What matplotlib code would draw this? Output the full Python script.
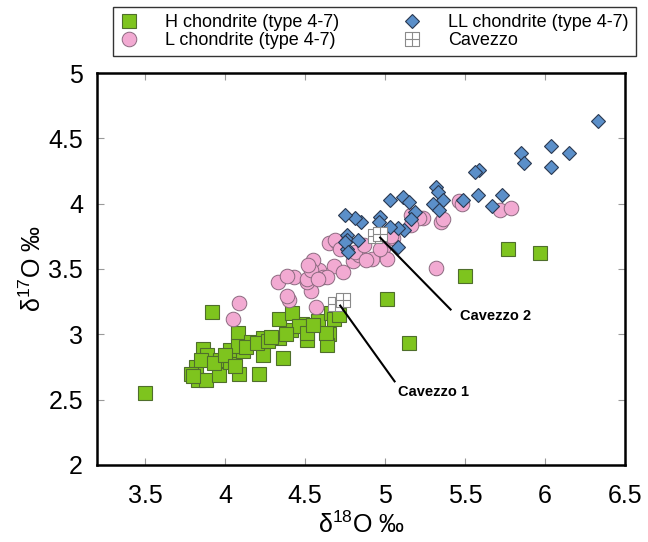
import numpy as np
import matplotlib
matplotlib.use("Agg")
import matplotlib.pyplot as plt
from matplotlib.path import Path

plt.rcParams['font.family'] = ['Liberation Sans', 'DejaVu Sans']

# H chondrite (type 4-7)
h_x = [3.50, 3.92, 4.08, 3.86, 3.89, 3.82, 3.79, 3.83, 3.88, 3.96, 3.97, 4.03,
       4.03, 4.09, 4.11, 4.08, 4.16, 4.24, 4.34, 4.36, 4.21, 4.24, 4.48, 4.51,
       4.41, 4.34, 4.42, 4.58, 4.65, 4.64, 4.66, 4.46, 4.63, 4.51, 3.85, 3.93,
       4.00, 4.13, 4.20, 4.27, 4.55, 4.29, 4.38, 4.68, 4.71, 4.06, 3.80,
       5.77, 5.97, 5.50, 5.01, 5.15]
h_y = [2.55, 3.17, 3.01, 2.89, 2.84, 2.75, 2.70, 2.65, 2.65, 2.69, 2.80, 2.79,
       2.88, 2.70, 2.87, 2.91, 2.94, 2.97, 2.97, 2.82, 2.70, 2.84, 3.08, 2.96,
       3.03, 3.12, 3.16, 3.10, 3.00, 2.92, 3.16, 3.06, 3.01, 3.01, 2.80, 2.78,
       2.84, 2.90, 2.93, 2.95, 3.07, 2.98, 3.00, 3.12, 3.15, 2.76, 2.68,
       3.65, 3.62, 3.45, 3.27, 2.93]

# L chondrite (type 4-7)
l_x = [4.09, 4.05, 4.40, 4.57, 4.54, 4.33, 4.43, 4.39, 4.51, 4.57, 4.59, 4.68,
       4.74, 4.55, 4.80, 4.84, 4.92, 4.51, 4.54, 4.61, 4.65, 4.70, 4.81, 4.87,
       4.88, 4.39, 4.52, 5.46, 5.35, 5.24, 5.16, 5.05, 4.99, 5.01, 5.32, 5.21,
       5.16, 5.36, 5.48, 5.72, 5.79, 5.04, 4.97, 4.64, 4.69, 4.72, 4.58]
l_y = [3.24, 3.12, 3.26, 3.21, 3.33, 3.40, 3.44, 3.45, 3.40, 3.47, 3.49, 3.52,
       3.48, 3.57, 3.56, 3.61, 3.58, 3.42, 3.49, 3.44, 3.70, 3.71, 3.63, 3.68,
       3.57, 3.29, 3.53, 4.02, 3.86, 3.89, 3.91, 3.74, 3.66, 3.58, 3.51, 3.89,
       3.84, 3.88, 4.00, 3.95, 3.97, 3.75, 3.65, 3.44, 3.72, 3.65, 3.42]

# LL chondrite (type 4-7)
ll_x = [6.33, 6.04, 6.15, 5.85, 5.87, 6.04, 5.59, 5.56, 5.58, 5.73, 5.67, 5.49,
        5.32, 5.33, 5.36, 5.30, 5.34, 5.11, 5.03, 5.15, 5.19, 5.16, 5.12, 5.08,
        5.03, 4.97, 4.96, 5.08, 4.85, 4.81, 4.75, 4.76, 4.76, 4.83, 4.76, 4.75,
        4.77]
ll_y = [4.63, 4.44, 4.39, 4.39, 4.31, 4.28, 4.26, 4.24, 4.07, 4.07, 3.98, 4.03,
        4.13, 4.09, 4.03, 4.00, 3.95, 4.05, 4.03, 4.01, 3.94, 3.88, 3.80, 3.81,
        3.82, 3.90, 3.86, 3.67, 3.86, 3.89, 3.91, 3.76, 3.72, 3.72, 3.65, 3.71,
        3.63]

# Cavezzo
cav_x = [4.69, 4.74, 4.94, 4.97]
cav_y = [3.23, 3.26, 3.75, 3.77]

# annotations: label, point, line end, text position
notes = [("Cavezzo 1", (4.72, 3.22), (5.06, 2.64), (5.08, 2.56)),
         ("Cavezzo 2", (4.97, 3.74), (5.41, 3.19), (5.47, 3.14))]

# square with a cross inside, for the Cavezzo marker
grid_sq = Path([(-1, -1), (1, -1), (1, 1), (-1, 1), (-1, -1),
                (0, -1), (0, 1), (-1, 0), (1, 0)],
               [Path.MOVETO, Path.LINETO, Path.LINETO, Path.LINETO, Path.CLOSEPOLY,
                Path.MOVETO, Path.LINETO, Path.MOVETO, Path.LINETO])

fig = plt.figure(figsize=(6.48, 5.42), dpi=100, facecolor="w")
ax = fig.add_axes([0.1497, 0.1421, 0.8148, 0.7232])

ax.plot(h_x, h_y, 's', ms=9.5, mfc='#7ec41e', mec='#4f6e2c', mew=0.8,
        ls='none', label='H chondrite (type 4-7)', zorder=3)
ax.plot(l_x, l_y, 'o', ms=10.5, mfc='#f2aad2', mec='#8c6a80', mew=0.7,
        ls='none', label='L chondrite (type 4-7)', zorder=4)
ax.plot(ll_x, ll_y, 'D', ms=7.5, mfc='#5b8fc9', mec='#2a3850', mew=0.8,
        ls='none', label='LL chondrite (type 4-7)', zorder=5)
ax.plot(cav_x, cav_y, marker=grid_sq, ms=10, mfc='w', mec='#8a8a8a', mew=0.8,
        ls='none', label='Cavezzo', zorder=6)

for text, p0, p1, pt in notes:
    ax.plot([p0[0], p1[0]], [p0[1], p1[1]], color='k', lw=1.5, zorder=7)
    ax.text(pt[0], pt[1], text, fontsize=10.5, fontweight='bold',
            ha='left', va='center')

ax.set_xlim(3.2, 6.5)
ax.set_ylim(2, 5)
ax.set_xticks([3.5, 4, 4.5, 5, 5.5, 6, 6.5])
ax.set_xticklabels(['3.5', '4', '4.5', '5', '5.5', '6', '6.5'])
ax.set_yticks([2, 2.5, 3, 3.5, 4, 4.5, 5])
ax.set_yticklabels(['2', '2.5', '3', '3.5', '4', '4.5', '5'])
ax.tick_params(direction='in', length=5, width=0.8, color='#9a9a9a',
               labelsize=18, top=True, right=True)
ax.tick_params(axis='x', pad=14)
ax.tick_params(axis='y', pad=10)
for s in ax.spines.values():
    s.set_linewidth(1.8)

ax.set_xlabel(r'$\mathregular{\delta^{18}}$O ‰', fontsize=18, labelpad=2)
ax.set_ylabel(r'$\mathregular{\delta^{17}}$O ‰', fontsize=18, labelpad=2)

leg = ax.legend(loc='upper left', bbox_to_anchor=(113 / 648, 1 - 7 / 542),
                bbox_transform=fig.transFigure, ncol=2,
                fontsize=13, frameon=True, fancybox=False,
                handletextpad=1.5, borderaxespad=0, labelspacing=0.05,
                handlelength=1.0, borderpad=0.4, columnspacing=3.5)
leg.get_frame().set_edgecolor('k')
leg.get_frame().set_linewidth(1.0)

plt.savefig("out.png", dpi=100)
